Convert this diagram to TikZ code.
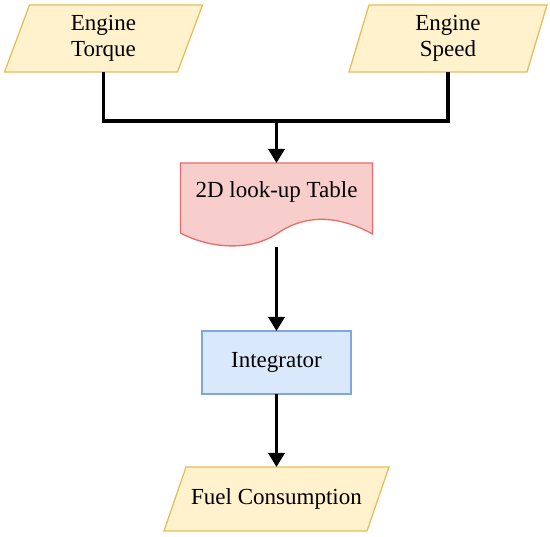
\documentclass[tikz,border=0pt]{standalone}
\usepackage{fontspec}
\setmainfont{Liberation Serif}
\usetikzlibrary{arrows.meta,backgrounds}
\definecolor{yfill}{HTML}{FFF2CC}
\definecolor{ydraw}{HTML}{E6BE5A}
\definecolor{rfill}{HTML}{F8CECC}
\definecolor{rdraw}{HTML}{EA6B66}
\definecolor{bfill}{HTML}{DAE8FC}
\definecolor{bdraw}{HTML}{7EA6E0}
\tikzset{
  box/.style={draw=none,inner sep=0pt,outer sep=0pt,align=center,font=\fontsize{23}{25.5}\selectfont},
  wire/.style={line width=3.5pt,line join=miter,line cap=butt},
  arr/.style={wire,-{Triangle[length=14pt,width=16pt]}},
  yshape/.style={fill=yfill,draw=ydraw,line width=1.3pt,line join=miter},
}
\begin{document}
\begin{tikzpicture}[x=1pt,y=-1pt]
\useasboundingbox (0,0) rectangle (550,537);
% nodes
\node[box,minimum width=173pt,minimum height=67pt] (torque) at (103.5,38.5) {Engine\\Torque};
\node[box,minimum width=178pt,minimum height=67pt] (speed) at (448,38.5) {Engine\\Speed};
\node[box,minimum width=192pt,minimum height=84pt] (doc) at (276.5,205) {};
\node[box] (doclabel) at (276.5,192) {2D look-up Table};
\node[box,minimum width=149pt,minimum height=63pt,fill=bfill,draw=bdraw,line width=1.3pt] (integ) at (276.5,362.5) {Integrator};
\node[box,minimum width=203pt,minimum height=64pt] (fuel) at (276.5,499) {Fuel Consumption};
\coordinate (jn) at (276.5,121);
% shapes
\begin{scope}[on background layer]
\draw[yshape] ([xshift=12.5pt]torque.north west) -- ([xshift=12.5pt]torque.north east) -- ([xshift=-12.5pt]torque.south east) -- ([xshift=-12.5pt]torque.south west) -- cycle;
\draw[yshape] ([xshift=10pt]speed.north west) -- ([xshift=10pt]speed.north east) -- ([xshift=-10pt]speed.south east) -- ([xshift=-10pt]speed.south west) -- cycle;
\draw[yshape] ([xshift=11pt]fuel.north west) -- ([xshift=11pt]fuel.north east) -- ([xshift=-11pt]fuel.south east) -- ([xshift=-11pt]fuel.south west) -- cycle;
\draw[fill=rfill,draw=rdraw,line width=1.3pt,line join=miter]
  (doc.north west) -- (doc.north east) -- ([yshift=13pt]doc.south east)
  .. controls ([xshift=-40pt,yshift=35pt]doc.south east) and ([xshift=-72pt,yshift=30pt]doc.south east) .. ([yshift=13pt]doc.south)
  .. controls ([xshift=-26pt,yshift=-4pt]doc.south) and ([xshift=-66pt,yshift=-2pt]doc.south) .. ([yshift=14pt]doc.south west) -- cycle;
\end{scope}
% connectors
\draw[wire] (torque.south) |- (jn) -| (speed.south);
\draw[arr] (jn) -- (doc.north);
\draw[arr] (doc.south) -- (integ.north);
\draw[arr] (integ.south) -- (fuel.north);
\end{tikzpicture}
\end{document}
